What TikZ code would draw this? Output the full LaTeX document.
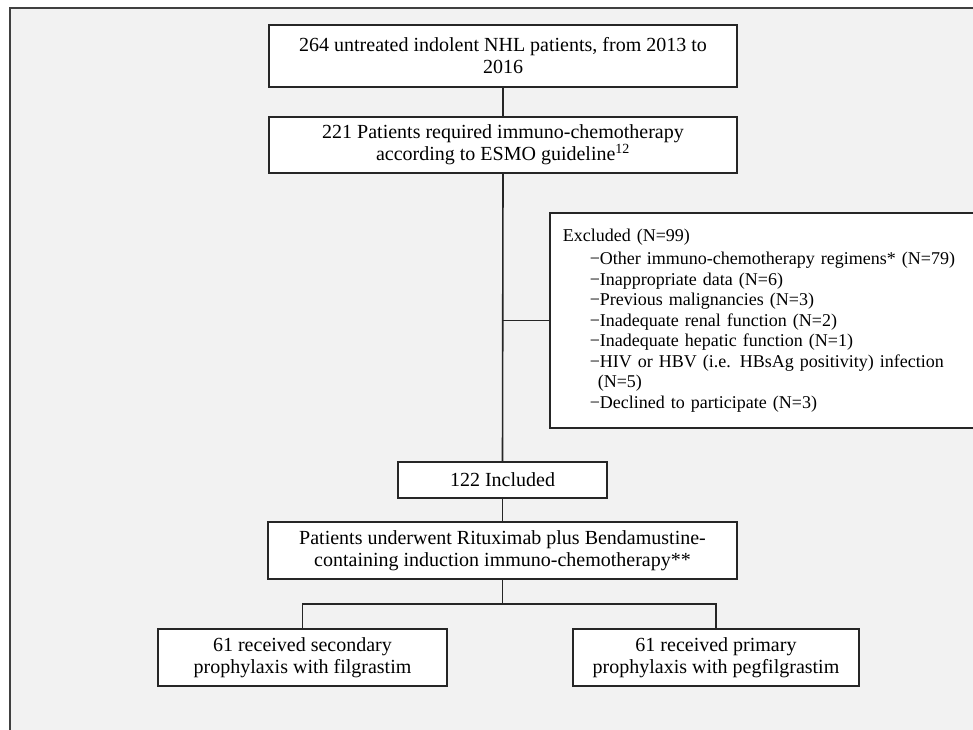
\documentclass[tikz,border=0pt]{standalone}
\usepackage{fontspec}
\setmainfont{Liberation Serif}
\begin{document}
\begin{tikzpicture}[x=1pt,y=-1pt,
        box/.style={draw=black!85,fill=white,line width=1.6pt,align=center,inner sep=0pt,font=\fontsize{20}{22}\selectfont},
        link/.style={draw=black!85,line width=1.6pt}]
                \useasboundingbox (0,0) rectangle (973,729);
                \fill[white] (0,0) rectangle (973,729);
                \fill[black!5] (10,8) rectangle (980,735);
                \draw[black!75,line width=1.6pt] (10,735) -- (10,8) -- (980,8);
                \node[box,minimum width=468pt,minimum height=62pt] (cohort) at (503,56) {264 untreated indolent NHL patients, from 2013 to\\2016};
                \node[box,minimum width=468pt,minimum height=56pt] (required) at (503,145) {221 Patients required immuno-chemotherapy\\according to ESMO guideline\textsuperscript{12}};
                \node[box,anchor=north west,align=left,minimum width=430pt,minimum height=215pt,inner xsep=13pt,text width=404pt,font=\fontsize{18}{20.5}\selectfont] (excluded) at (549,212) {Excluded (N=99)\\[3pt]
                    \hspace*{27pt}−Other immuno-chemotherapy regimens* (N=79)\\
                    \hspace*{27pt}−Inappropriate data (N=6)\\
                    \hspace*{27pt}−Previous malignancies (N=3)\\
                    \hspace*{27pt}−Inadequate renal function (N=2)\\
                    \hspace*{27pt}−Inadequate hepatic function (N=1)\\
                    \hspace*{27pt}−HIV or HBV (i.e. HBsAg positivity) infection\\
                    \hspace*{35pt}(N=5)\\
                    \hspace*{27pt}−Declined to participate (N=3)};
                \node[box,minimum width=209pt,minimum height=36pt] (included) at (502.5,480) {122 Included};
                \node[box,minimum width=469pt,minimum height=57pt] (regimen) at (502.5,550.5) {Patients underwent Rituximab plus Bendamustine-\\containing induction immuno-chemotherapy**};
                \node[box,minimum width=289pt,minimum height=57pt] (filgrastim) at (302.5,657.5) {61 received secondary\\prophylaxis with filgrastim};
                \node[box,minimum width=286pt,minimum height=57pt] (pegfilgrastim) at (716,657.5) {61 received primary\\prophylaxis with pegfilgrastim};
                \coordinate (split) at (502.5,604);
                \draw[link] (cohort) -- (required);
                \draw[link] (required.south) -- (included.north);
                \draw[link] (required.south |- excluded.west) -- (excluded.west);
                \draw[link] (included) -- (regimen);
                \draw[link] (regimen.south) -- (split);
                \draw[link] (filgrastim.north) |- (split) -| (pegfilgrastim.north);
            \end{tikzpicture}
\end{document}
